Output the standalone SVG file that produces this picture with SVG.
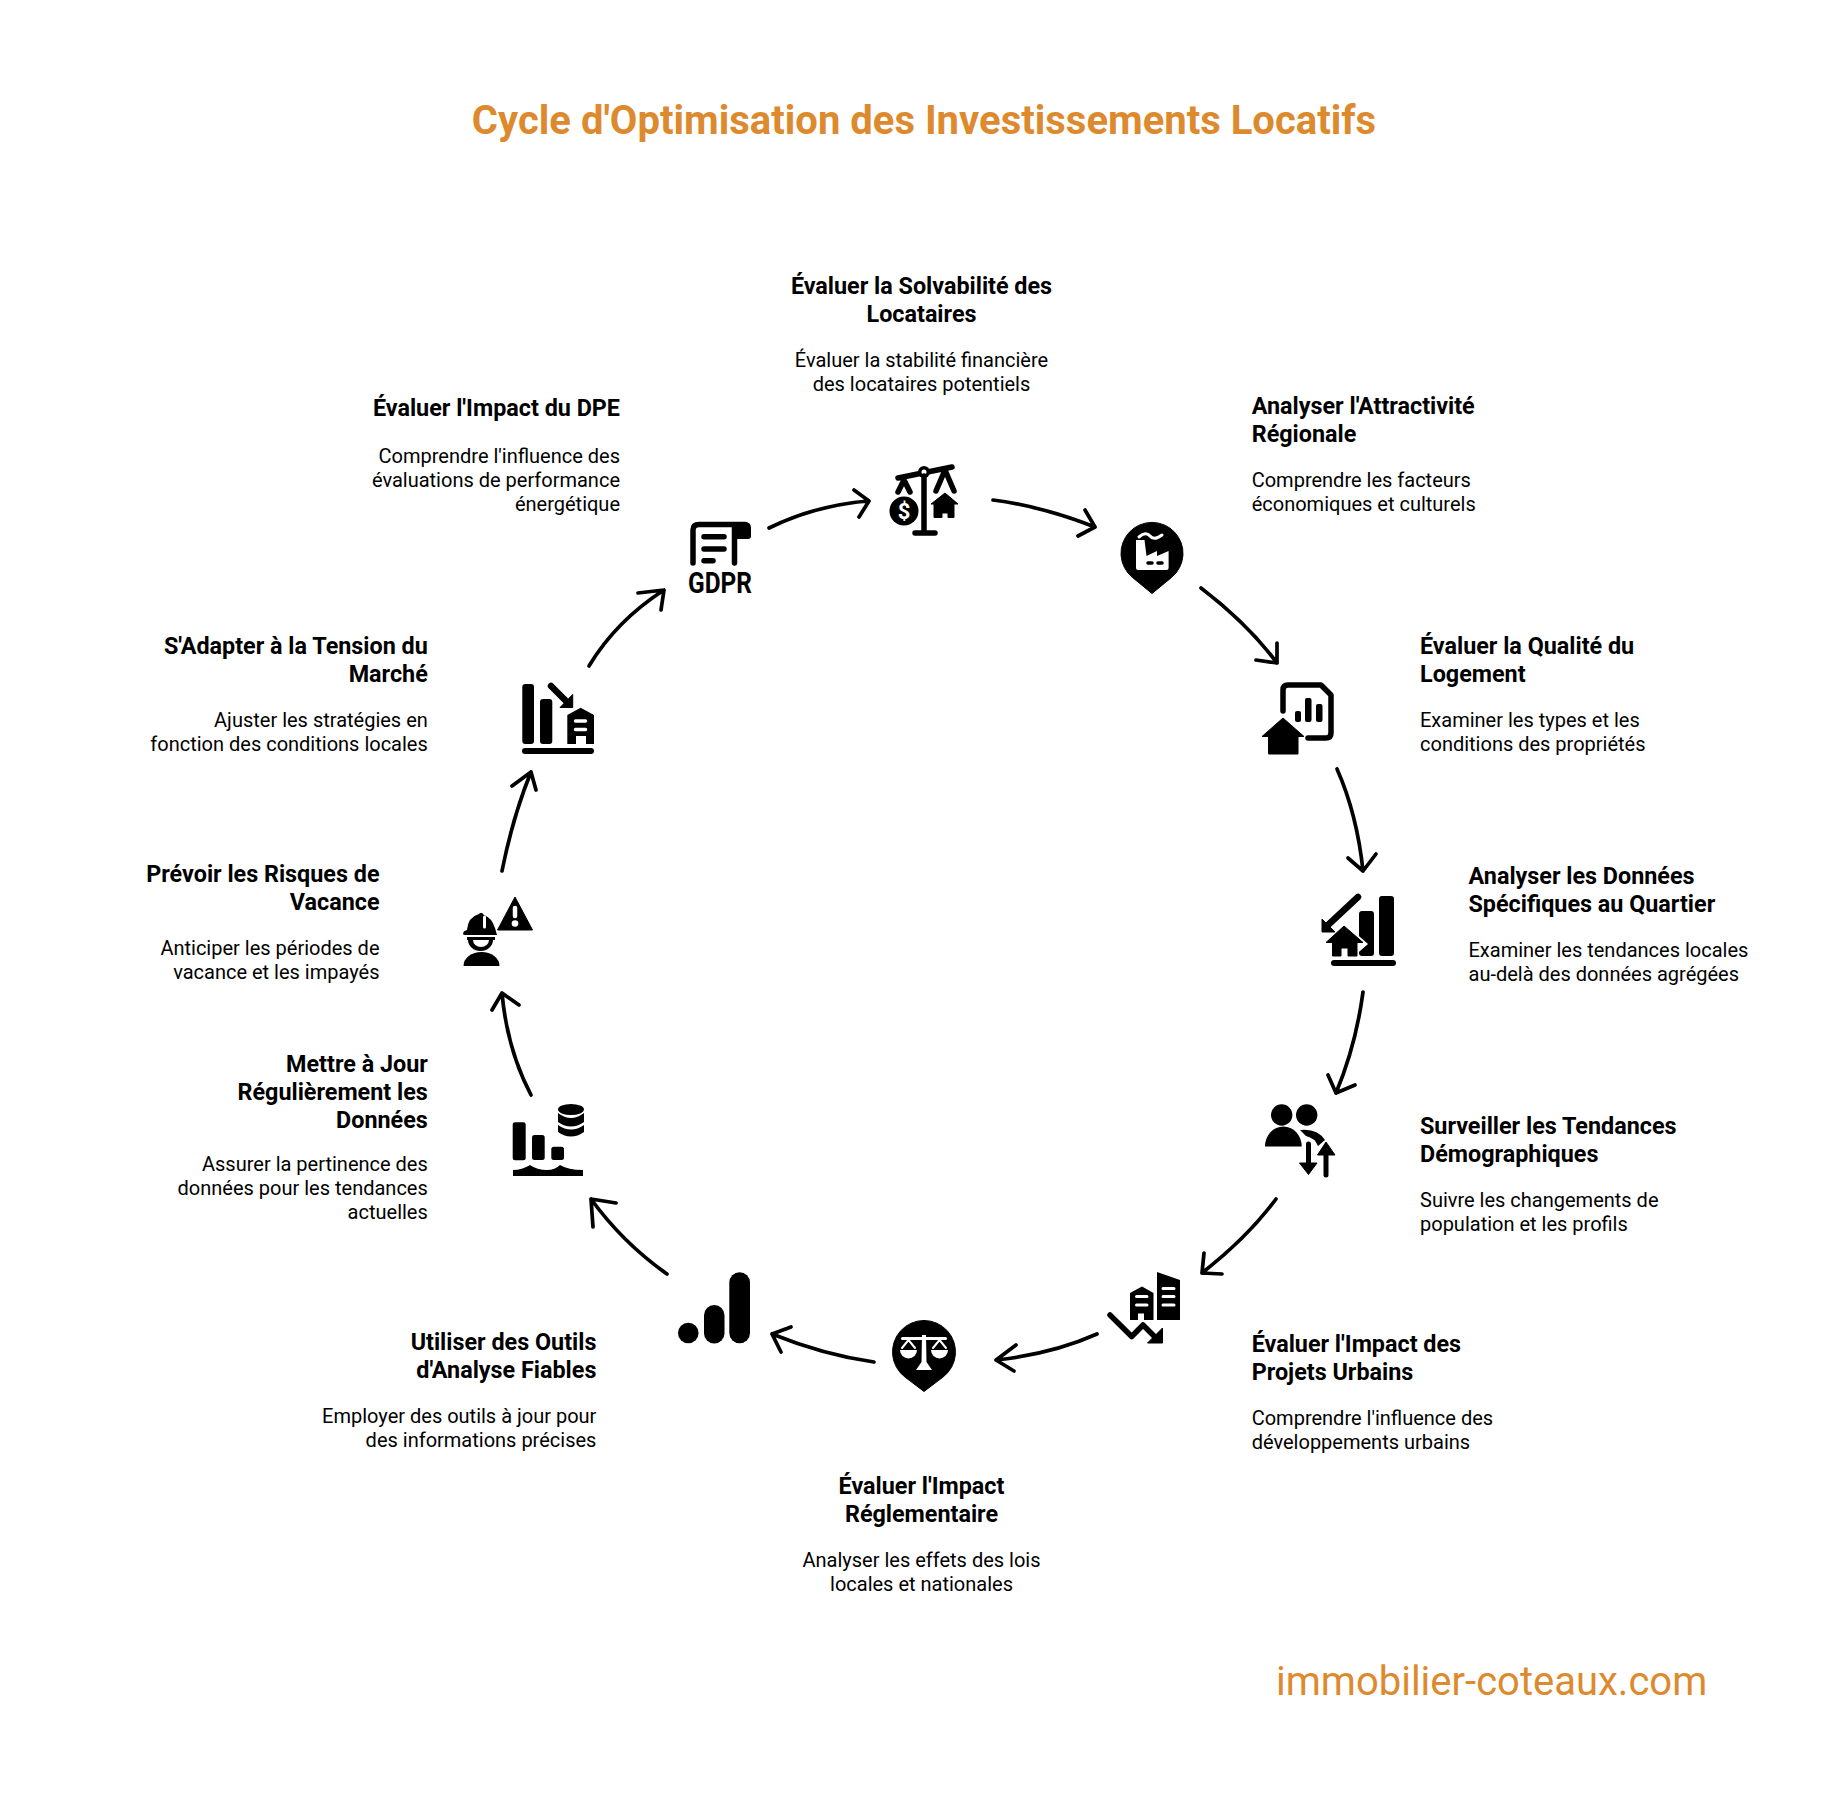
<svg xmlns="http://www.w3.org/2000/svg" width="1848" height="1800" viewBox="0 0 1848 1800">
<style>
text{font-family:Roboto,"Liberation Sans",sans-serif;fill:#000}
.h{font-size:23.35px;font-weight:700}
.b{font-size:20px;font-weight:400}
.m{text-anchor:middle}.e{text-anchor:end}
.t{font-size:40px;font-weight:700;fill:#DD8A2E;text-anchor:middle}
.w{font-size:40px;fill:#DD8A2E}
.c path{fill:none;stroke:#000;stroke-width:3.700;stroke-linecap:round;stroke-linejoin:round}
.s{fill:none;stroke:#000;stroke-linecap:round;stroke-linejoin:round}
.sw{fill:none;stroke:#fff;stroke-linecap:round;stroke-linejoin:round}
.f{fill:#000;stroke:#000;stroke-width:1;stroke-linejoin:round}
.fw{fill:#fff}
</style>
<rect width="1848" height="1800" fill="#fff"/>
<text class="t" x="924" y="134">Cycle d'Optimisation des Investissements Locatifs</text>
<text class="w" x="1276" y="1695">immobilier-coteaux.com</text>

<g id="connectors" class="c">
<path d="M769,528Q816,505 869,501M854,490L869,501L859,517"/>
<path d="M993,500Q1041,506 1095,527M1085,510L1095,527L1078,536"/>
<path d="M1201,588Q1248,624 1277,663M1277,643L1277,663L1256,660"/>
<path d="M1337,769Q1357,814 1363,871M1348,858L1363,871L1376,854"/>
<path d="M1363,992Q1356,1045 1336,1093M1328,1075L1336,1093L1355,1085"/>
<path d="M1276,1199Q1248,1237 1202,1273M1204,1253L1202,1273L1222,1274"/>
<path d="M1097,1334Q1052,1354 996,1360M1016,1345L996,1360L1014,1371"/>
<path d="M874,1362Q824,1355 772,1334M791,1327L772,1334L781,1352"/>
<path d="M667,1274Q623,1243 591,1199M616,1203L591,1199L593,1227"/>
<path d="M531,1095Q507,1049 502,993M492,1010L502,993L519,1005"/>
<path d="M502,871Q513,816 531,772M512,786L531,772L536,790"/>
<path d="M589,666Q616,621 664,590M638,593L664,590L661,610"/>
</g>

<g id="node-solvabilite">
<text class="h m" x="921.500" y="293.500">Évaluer la Solvabilité des</text>
<text class="h m" x="921.500" y="322">Locataires</text>
<text class="b m" x="921.500" y="366.500">Évaluer la stabilité financière</text>
<text class="b m" x="921.500" y="390.500">des locataires potentiels</text>
<path class="s" stroke-width="5.500" d="M898,478L952,467M898,492L904,480L910,492M936,491L945,470L954,491"/>
<circle cx="924" cy="472" r="6"/><circle cx="924" cy="472" r="2.500" fill="#fff"/>
<path class="s" stroke-width="5.500" d="M924,476V532M915,533H935"/>
<circle cx="904" cy="511" r="14.500"/>
<text x="904" y="519" font-size="22" font-weight="700" text-anchor="middle" style="fill:#fff">$</text>
<path class="f" d="M945,493L958,504H954V517.500H948V513H942V517.500H934V504H931Z"/>
</g>

<g id="node-attractivite">
<text class="h" x="1251.700" y="414">Analyser l'Attractivité</text>
<text class="h" x="1251.700" y="442">Régionale</text>
<text class="b" x="1251.700" y="486.500">Comprendre les facteurs</text>
<text class="b" x="1251.700" y="510.500">économiques et culturels</text>
<path class="f" d="M1152,593.500L1132.400,577.400A31,31 0 1 1 1171.600,577.400Z"/>
<path class="fw" d="M1136,540H1144.500L1146.500,556L1157,551V556L1168.600,551V568Q1168.600,570 1166.600,570H1138Q1136,570 1136,568Z"/>
<path class="sw" stroke-width="3" d="M1139,537Q1146,531 1150,536T1162,535"/>
<path class="s" stroke-width="3.500" d="M1148,563H1152M1158,563H1162"/>
</g>

<g id="node-qualite">
<text class="h" x="1420" y="654">Évaluer la Qualité du</text>
<text class="h" x="1420" y="682">Logement</text>
<text class="b" x="1420" y="727">Examiner les types et les</text>
<text class="b" x="1420" y="751">conditions des propriétés</text>
<path class="s" stroke-width="5.500" d="M1283,711V690Q1283,685 1288,685H1321L1331,695V733Q1331,738 1326,738H1308"/>
<rect x="1295" y="711" width="6" height="11" rx="2"/>
<rect x="1305" y="698" width="6.500" height="24" rx="2"/>
<rect x="1316" y="704" width="6.500" height="18" rx="2"/>
<path class="f" d="M1283,718L1304,736.500H1298V754H1268.500V736.500H1262Z"/>
</g>

<g id="node-donnees">
<text class="h" x="1468.500" y="884">Analyser les Données</text>
<text class="h" x="1468.500" y="912">Spécifiques au Quartier</text>
<text class="b" x="1468.500" y="957">Examiner les tendances locales</text>
<text class="b" x="1468.500" y="981">au-delà des données agrégées</text>
<rect x="1379" y="896" width="15" height="60" rx="3"/>
<rect x="1359" y="911" width="15" height="45" rx="3"/>
<path d="M1344,923L1368,944L1352,958H1330V923Z" fill="#fff"/>
<path class="f" d="M1344,926L1363,942.500H1357V956H1348V948H1341V956H1332.500V942.500H1326Z"/>
<path class="s" stroke-width="6" d="M1334,963H1393"/>
<path class="s" stroke-width="6.500" d="M1358,897L1328,925"/>
<path class="f" d="M1322,919V932H1335Z"/>
</g>

<g id="node-demographie">
<text class="h" x="1420" y="1134">Surveiller les Tendances</text>
<text class="h" x="1420" y="1162">Démographiques</text>
<text class="b" x="1420" y="1207">Suivre les changements de</text>
<text class="b" x="1420" y="1231">population et les profils</text>
<circle cx="1281.700" cy="1115" r="10.700"/><circle cx="1306.700" cy="1115" r="10.700"/>
<path d="M1265,1146.500A18.300,20 0 0 1 1301.700,1146.500Z"/>
<path d="M1300,1130Q1317,1128 1325,1140L1318,1146Q1315,1138 1306,1136Z"/>
<path class="s" stroke-width="5" d="M1308.500,1144V1165M1326,1175V1152"/>
<path class="f" d="M1299.500,1163H1317L1308.500,1174.500ZM1326,1142L1335,1155H1317.500Z"/>
</g>

<g id="node-urbains">
<text class="h" x="1251.700" y="1352">Évaluer l'Impact des</text>
<text class="h" x="1251.700" y="1380">Projets Urbains</text>
<text class="b" x="1251.700" y="1424.500">Comprendre l'influence des</text>
<text class="b" x="1251.700" y="1448.500">développements urbains</text>
<path d="M1157,1272L1180,1280V1320H1157Z"/>
<path class="sw" stroke-width="3" d="M1163,1288.500H1174M1163,1296.500H1174M1163,1305H1174"/>
<path d="M1130,1293L1142,1286.500L1153.500,1293V1320H1144V1313.500H1138V1320H1130Z"/>
<path class="sw" stroke-width="3" d="M1136.500,1296.500H1147M1136.500,1305H1147"/>
<path class="s" stroke-width="5.500" d="M1110,1315L1131.700,1336.500L1143,1325L1157,1339"/>
<path class="f" d="M1162.500,1328V1343H1147.500Z"/>
</g>

<g id="node-reglementaire">
<text class="h m" x="921.500" y="1494">Évaluer l'Impact</text>
<text class="h m" x="921.500" y="1522">Réglementaire</text>
<text class="b m" x="921.500" y="1566.500">Analyser les effets des lois</text>
<text class="b m" x="921.500" y="1590.500">locales et nationales</text>
<path class="f" d="M924,1391.500L905,1377.100A31.500,31.500 0 1 1 943,1377.100Z"/>
<path class="sw" stroke-width="3" d="M902.500,1338.500H945.500"/>
<path class="fw" d="M922,1335H926L926.500,1362L932,1370H916L921.500,1362Z"/>
<path class="fw" d="M900,1350H917A8.500,8.500 0 0 1 900,1350ZM931,1350H948A8.500,8.500 0 0 1 931,1350Z"/>
<path class="sw" stroke-width="2" d="M902,1348L908.500,1340L915,1348M933,1348L939.500,1340L946,1348"/>
</g>

<g id="node-outils">
<text class="h e" x="596.400" y="1349.500">Utiliser des Outils</text>
<text class="h e" x="596.400" y="1377.500">d'Analyse Fiables</text>
<text class="b e" x="596.400" y="1422.500">Employer des outils à jour pour</text>
<text class="b e" x="596.400" y="1446.500">des informations précises</text>
<circle cx="688.300" cy="1333" r="10.300"/>
<rect x="704" y="1305" width="20.500" height="38.500" rx="10.200"/>
<rect x="729.300" y="1272.300" width="20.700" height="71" rx="10.300"/>
</g>

<g id="node-maj">
<text class="h e" x="427.800" y="1072">Mettre à Jour</text>
<text class="h e" x="427.800" y="1100">Régulièrement les</text>
<text class="h e" x="427.800" y="1127.500">Données</text>
<text class="b e" x="427.800" y="1170.500">Assurer la pertinence des</text>
<text class="b e" x="427.800" y="1194.500">données pour les tendances</text>
<text class="b e" x="427.800" y="1218.500">actuelles</text>
<rect x="512.700" y="1122.300" width="13" height="38" rx="2.500"/>
<rect x="532" y="1135" width="12.700" height="25" rx="2.500"/>
<rect x="551.300" y="1146.700" width="12.700" height="13.300" rx="2.500"/>
<path d="M513,1176V1170Q522,1170 530,1165Q537,1170 547,1170Q555,1170 560,1165Q568,1170 583,1170V1176Z"/>
<ellipse cx="571" cy="1109.500" rx="13" ry="5.500"/>
<path d="M558,1113Q571,1123 584,1113V1122Q571,1131 558,1122Z"/>
<path d="M558,1125Q571,1134 584,1125V1132Q571,1141 558,1132Z"/>
</g>

<g id="node-vacance">
<text class="h e" x="379.500" y="881.500">Prévoir les Risques de</text>
<text class="h e" x="379.500" y="909.500">Vacance</text>
<text class="b e" x="379.500" y="954.500">Anticiper les périodes de</text>
<text class="b e" x="379.500" y="978.500">vacance et les impayés</text>
<path class="f" stroke-width="3" d="M515,897L497.500,930H532.500Z"/>
<path class="sw" stroke-width="4.500" d="M515,908V916"/><circle cx="515" cy="923.500" r="3.300" fill="#fff"/>
<path d="M463,934Q463,931 467,930Q468,917 479,914L480,913H482L484,915Q492,918 495,928L497,935H466Q463,935 463,934Z"/>
<path class="sw" stroke-width="3" d="M484.500,917V927"/>
<path d="M467,937H495V940H493A12.500,11 0 0 1 468,940H467ZM473,940A8,7 0 0 0 489,940Z" fill-rule="evenodd"/>
<path d="M463.500,966A18,14 0 0 1 499.500,966Z"/>
</g>

<g id="node-tension">
<text class="h e" x="427.800" y="654">S'Adapter à la Tension du</text>
<text class="h e" x="427.800" y="682">Marché</text>
<text class="b e" x="427.800" y="727">Ajuster les stratégies en</text>
<text class="b e" x="427.800" y="751">fonction des conditions locales</text>
<rect x="522.300" y="684" width="11.700" height="60" rx="3"/>
<rect x="540" y="699" width="12.300" height="45" rx="3"/>
<path class="s" stroke-width="6" d="M525,751H591"/>
<path d="M580.700,707.700L594,715V744H586V736H576V744H567.300V715Z"/>
<path class="sw" stroke-width="3.500" d="M575.500,721H585.500M575.500,729.500H585.500"/>
<path class="s" stroke-width="6.500" d="M551,686L568,703"/>
<path class="f" d="M572.700,694.500V707.500H560Z"/>
</g>

<g id="node-dpe">
<text class="h e" x="620" y="416">Évaluer l'Impact du DPE</text>
<text class="b e" x="620" y="463">Comprendre l'influence des</text>
<text class="b e" x="620" y="487">évaluations de performance</text>
<text class="b e" x="620" y="511">énergétique</text>
<path class="s" stroke-width="5.500" d="M693,563V530Q693,524.500 699,524.500H745M734.500,524.500V563"/>
<path d="M735,522H745Q751,522 751,528V536Q751,539 748,539H735Z"/>
<path class="s" stroke-width="5.500" d="M704,536.700H724M704,549H724M704,560.700H713"/>
<text x="688" y="593" font-size="29" font-weight="700" textLength="64" lengthAdjust="spacingAndGlyphs">GDPR</text>
</g>
</svg>
